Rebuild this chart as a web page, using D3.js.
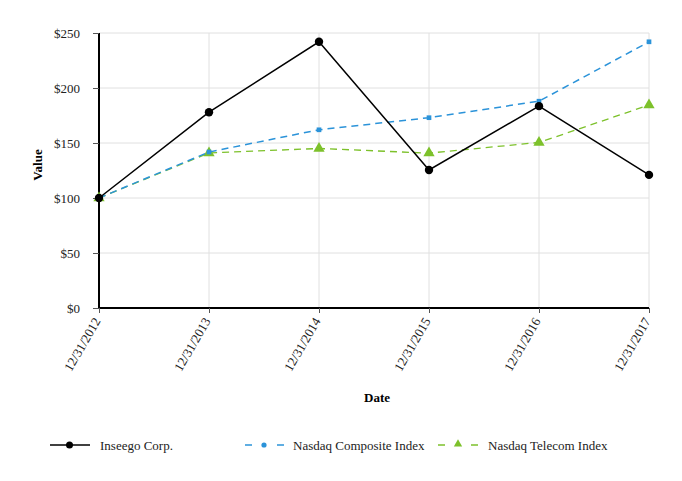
<!DOCTYPE html>
<html><head><meta charset="utf-8">
<script src="https://cdn.jsdelivr.net/npm/d3@7"></script>
<style>body{margin:0;background:#fff}</style>
</head><body>
<svg id="c" width="682" height="481" font-family="Liberation Serif"></svg>
<script>
const dates = ["12/31/2012","12/31/2013","12/31/2014","12/31/2015","12/31/2016","12/31/2017"];
const inseego = [100, 178, 242, 125.5, 183.5, 121];
const composite = [100, 141.8, 162, 173, 188, 242];
const telecom = [100, 141, 145, 140.8, 150.5, 184.5];
const yTicks = [0, 50, 100, 150, 200, 250];
const seriesNames = ["Inseego Corp.", "Nasdaq Composite Index", "Nasdaq Telecom Index"];

const FF = "Liberation Serif";
const svg = d3.select("#c");
const L = 99, R = 649, T = 33, B = 308;
const x = d3.scalePoint().domain(dates).range([L, R]);
const y = d3.scaleLinear().domain([0, 250]).range([B, T]);

// grid
svg.append("g").selectAll("line.h").data(yTicks).join("line")
  .attr("x1", L).attr("x2", R).attr("y1", d => y(d)).attr("y2", d => y(d))
  .attr("stroke", "#e0e0e0").attr("stroke-width", 1);
svg.append("g").selectAll("line.v").data(dates).join("line")
  .attr("x1", d => x(d)).attr("x2", d => x(d)).attr("y1", T).attr("y2", B)
  .attr("stroke", "#e0e0e0").attr("stroke-width", 1);

// axes
const yAxis = svg.append("g").attr("transform", `translate(${L},0)`)
  .call(d3.axisLeft(y).tickValues(yTicks).tickFormat(d => "$" + d).tickSize(6).tickPadding(13));
const xAxis = svg.append("g").attr("transform", `translate(0,${B})`)
  .call(d3.axisBottom(x).tickSize(5).tickPadding(6));
[yAxis, xAxis].forEach(a => {
  a.attr("font-family", FF);
  a.select(".domain").attr("stroke", "#000").attr("stroke-width", 2);
  a.selectAll(".tick line").attr("stroke", "#555");
  a.selectAll("text").attr("font-family", FF).attr("font-size", 13).attr("fill", "#222");
});
yAxis.select(".domain").attr("d", `M0,${B}V${T}`);
xAxis.select(".domain").attr("d", `M${L},0H${R}`);
xAxis.selectAll("text").attr("text-anchor", "end")
  .attr("transform", "translate(-1,8) rotate(-60)").attr("dy", "0.35em").attr("y", 0).attr("x", -3);

// titles
svg.append("text").attr("transform", "translate(42,165) rotate(-90)").attr("text-anchor", "middle")
  .attr("font-family", FF).attr("font-weight", "bold").attr("font-size", 13).text("Value");
svg.append("text").attr("x", 377).attr("y", 402).attr("text-anchor", "middle")
  .attr("font-family", FF).attr("font-weight", "bold").attr("font-size", 13).text("Date");

const line = d3.line().x((d, i) => x(dates[i])).y(d => y(d));
const tri = d3.symbol().type(d3.symbolTriangle).size(55);
const sq = d3.symbol().type(d3.symbolSquare).size(22);

function draw(data, color, dash, width, marker) {
  svg.append("path").attr("d", line(data)).attr("fill", "none").attr("stroke", color)
    .attr("stroke-width", width).attr("stroke-dasharray", dash);
  const g = svg.append("g");
  if (marker === "circle") {
    g.selectAll("circle").data(data).join("circle").attr("cx", (d, i) => x(dates[i])).attr("cy", d => y(d))
      .attr("r", 4.2).attr("fill", color);
  } else {
    g.selectAll("path").data(data).join("path").attr("d", marker === "tri" ? tri : sq)
      .attr("transform", (d, i) => `translate(${x(dates[i])},${y(d)})`).attr("fill", color);
  }
}
draw(telecom, "#7dc12b", "7,5", 1.3, "tri");
draw(composite, "#2b93d9", "7,5", 1.5, "sq");
draw(inseego, "#000", null, 1.5, "circle");

// legend
const ly = 445;
const lg = svg.append("g").attr("font-family", FF).attr("font-size", 13).attr("fill", "#222");
lg.append("line").attr("x1", 50).attr("x2", 90).attr("y1", ly).attr("y2", ly).attr("stroke", "#000").attr("stroke-width", 1.5);
lg.append("circle").attr("cx", 69.5).attr("cy", ly).attr("r", 3.5).attr("fill", "#000");
lg.append("text").attr("x", 100).attr("y", ly + 4.5).text(seriesNames[0]);

lg.append("line").attr("x1", 245).attr("x2", 252).attr("y1", ly).attr("y2", ly).attr("stroke", "#2b93d9").attr("stroke-width", 1.5);
lg.append("line").attr("x1", 277).attr("x2", 284).attr("y1", ly).attr("y2", ly).attr("stroke", "#2b93d9").attr("stroke-width", 1.5);
lg.append("circle").attr("cx", 264).attr("cy", ly).attr("r", 2.6).attr("fill", "#2b93d9");
lg.append("text").attr("x", 293).attr("y", ly + 4.5).text(seriesNames[1]);

lg.append("line").attr("x1", 438).attr("x2", 445).attr("y1", ly).attr("y2", ly).attr("stroke", "#7dc12b").attr("stroke-width", 1.5);
lg.append("line").attr("x1", 471).attr("x2", 478).attr("y1", ly).attr("y2", ly).attr("stroke", "#7dc12b").attr("stroke-width", 1.5);
lg.append("path").attr("d", d3.symbol().type(d3.symbolTriangle).size(30)).attr("transform", `translate(458,${ly - 1})`).attr("fill", "#7dc12b");
lg.append("text").attr("x", 488).attr("y", ly + 4.5).text(seriesNames[2]);
</script>
</body></html>
